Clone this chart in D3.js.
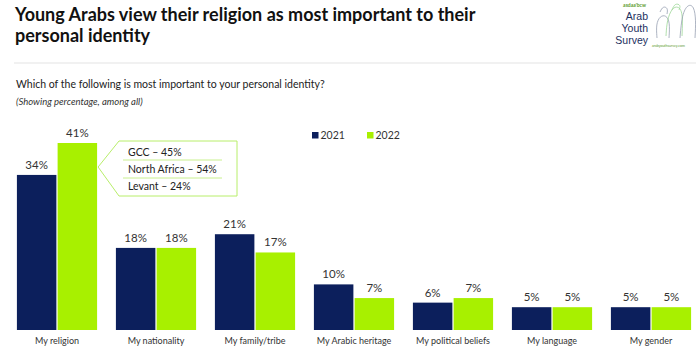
<!DOCTYPE html>
<html>
<head>
<meta charset="utf-8">
<script src="https://cdn.jsdelivr.net/npm/d3@7"></script>
<style>
  body { margin: 0; background: #fff; }
  svg text { font-family: Lato, "Open Sans", sans-serif; }
</style>
</head>
<body>
<div id="chart"></div>
<script>
// Young Arabs – most important to personal identity, 2021 vs 2022

const categories = ["My religion", "My nationality", "My family/tribe", "My Arabic heritage",
  "My political beliefs", "My language", "My gender"];
const years = ["2021", "2022"];
const values2021 = [34, 18, 21, 10, 6, 5, 5];
const values2022 = [41, 18, 17, 7, 7, 5, 5];
const calloutLines = ["GCC  \u2013 45%", "North Africa \u2013 54%", "Levant \u2013 24%"];

const colors = { "2021": "#0c1f5c", "2022": "#a8f000" };

function render() {
  const width = 696, height = 352;
  const svg = d3.select("#chart").append("svg")
    .attr("width", width)
    .attr("height", height);

  // title + subtitle
  const title = svg.append("text")
    .attr("x", 15)
    .attr("y", 21)
    .style("font-size", "18px")
    .style("font-weight", "bold")
    .attr("fill", "#111");
  title.append("tspan").attr("x", 15).text("Young Arabs view their religion as most important to their");
  title.append("tspan").attr("x", 15).attr("dy", 21).text("personal identity");

  svg.append("line")
    .attr("x1", 14).attr("x2", 696)
    .attr("y1", 63).attr("y2", 63)
    .attr("stroke", "#e3e3e3");

  svg.append("text")
    .attr("x", 16).attr("y", 88)
    .style("font-size", "10.5px")
    .attr("fill", "#222")
    .text("Which of the following is most important to your personal identity?");

  svg.append("text")
    .attr("x", 16).attr("y", 105)
    .style("font-size", "9.5px")
    .style("font-style", "italic")
    .attr("fill", "#333")
    .text("(Showing percentage, among all)");

  // logo (rough)
  const logo = svg.append("g");
  logo.append("text").attr("x", 646).attr("y", 7).attr("text-anchor", "end")
    .style("font-size", "5px").style("font-weight", "bold").attr("fill", "#5a9a2a").text("asdaa'bcw");
  [["Arab", 20], ["Youth", 32], ["Survey", 44]].forEach(([t, y]) => {
    logo.append("text").attr("x", 648).attr("y", y).attr("text-anchor", "end")
      .style("font-family", "'Liberation Sans', sans-serif")
      .style("font-size", "10.5px").attr("fill", "#1b2f5e")
      .text(t);
  });
  logo.append("text").attr("x", 652).attr("y", 47)
    .style("font-size", "3.5px").attr("fill", "#5a9a2a").text("arabyouthsurvey.com");
  const fig = d3.line().curve(d3.curveBasis);
  [
    [[[657, 38], [656, 24], [660, 16], [666, 15], [670, 22], [669, 38]], "#8a93a8"],
    [[[666, 36], [667, 20], [672, 8], [678, 6], [683, 12], [682, 36]], "#8fd18a"],
    [[[680, 38], [682, 14], [688, 4], [694, 6], [696, 20], [695, 38]], "#8a93a8"],
    [[[660, 12], [663, 6], [668, 8], [667, 14]], "#8a93a8"],
    [[[672, 10], [675, 3], [681, 5], [679, 10]], "#8fd18a"]
  ].forEach(([pts, c]) => {
    logo.append("path").attr("d", fig(pts)).attr("fill", "none")
      .attr("stroke", c).attr("stroke-width", 0.7);
  });

  // scales
  const baseline = 330;
  const x = d3.scaleBand()
    .domain(categories)
    .range([7.5, 700.5])
    .paddingInner(0.19)
    .paddingOuter(0.095);

  const xSub = d3.scaleBand()
    .domain(years)
    .range([0, x.bandwidth()])
    .paddingInner(0.03);

  const y = d3.scaleLinear()
    .domain([0, 41])
    .range([baseline, 143]);

  const rows = categories.map((c, i) => ({
    category: c,
    items: [
      { year: "2021", value: values2021[i] },
      { year: "2022", value: values2022[i] }
    ]
  }));

  const groups = svg.append("g").selectAll("g")
    .data(rows)
    .join("g")
    .attr("transform", d => `translate(${x(d.category)},0)`);

  groups.selectAll("rect")
    .data(d => d.items)
    .join("rect")
    .attr("x", d => xSub(d.year))
    .attr("y", d => y(d.value))
    .attr("width", xSub.bandwidth())
    .attr("height", d => baseline - y(d.value))
    .attr("fill", d => colors[d.year]);

  groups.selectAll("text.val")
    .data(d => d.items)
    .join("text")
    .attr("class", "val")
    .attr("x", d => xSub(d.year) + xSub.bandwidth() / 2)
    .attr("y", d => y(d.value) - 6)
    .attr("text-anchor", "middle")
    .style("font-size", "11.5px")
    .attr("fill", "#333")
    .text(d => d.value + "%");

  // category axis
  const axis = svg.append("g")
    .attr("transform", `translate(0,${baseline})`)
    .call(d3.axisBottom(x).tickSize(0).tickPadding(8));
  axis.select(".domain").remove();
  axis.selectAll("text")
    .style("font-size", "9px")
    .style("font-family", "Lato, sans-serif")
    .attr("fill", "#333");

  // legend
  const legend = svg.append("g").attr("transform", "translate(312,132)");
  years.forEach((yr, i) => {
    const lg = legend.append("g").attr("transform", `translate(${i * 55},0)`);
    lg.append("rect").attr("width", 6.5).attr("height", 6.5).attr("fill", colors[yr]);
    lg.append("text").attr("x", 8.5).attr("y", 7)
      .style("font-size", "10.5px").attr("fill", "#333").text(yr);
  });

  // callout for religion 2022
  const tipX = x(categories[0]) + x.bandwidth() + 1;
  const box = { x0: 119, x1: 237, y0: 141, y1: 196 };
  svg.append("path")
    .attr("d", `M${box.x0},${box.y0}H${box.x1}V${box.y1}H${box.x0}L${tipX},167Z`)
    .attr("fill", "#fff")
    .attr("stroke", "#b8ee6a")
    .attr("stroke-width", 1);

  [160, 178].forEach(ly => {
    svg.append("line")
      .attr("x1", 123).attr("x2", 222)
      .attr("y1", ly).attr("y2", ly)
      .attr("stroke", "#c9f08e");
  });

  calloutLines.forEach((t, i) => {
    svg.append("text")
      .attr("x", 128)
      .attr("y", 156 + i * 17)
      .style("font-size", "10.5px")
      .attr("fill", "#222")
      .text(t);
  });
}

document.addEventListener("DOMContentLoaded", render);
</script>
</body>
</html>
